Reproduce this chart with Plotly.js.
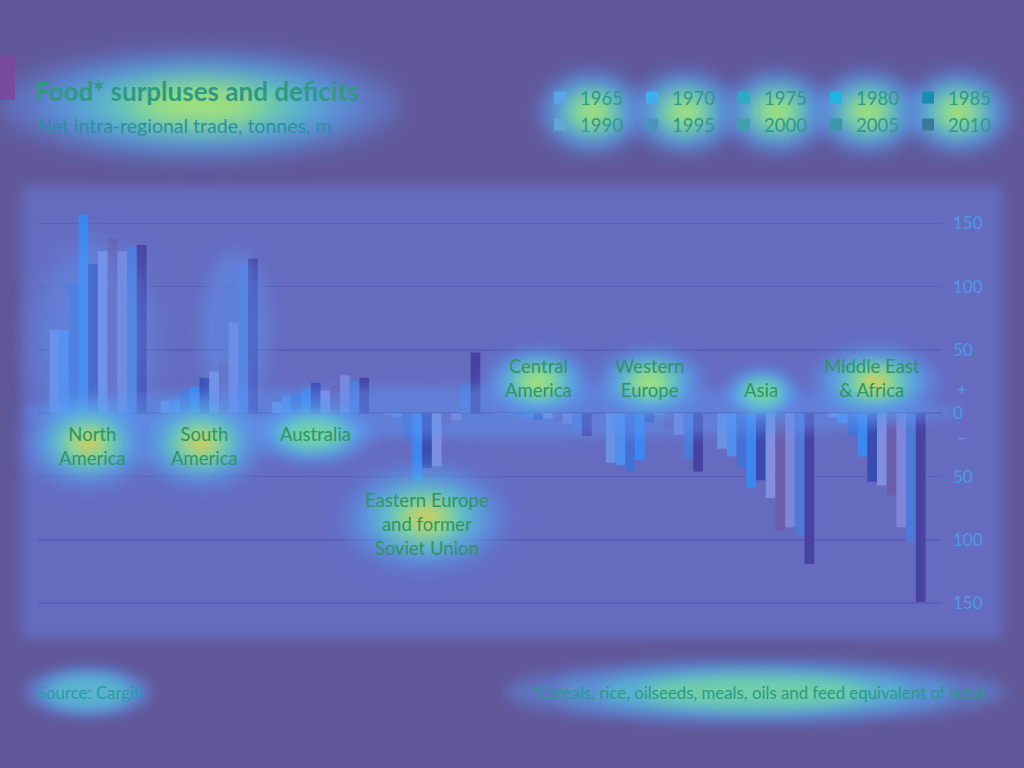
<!DOCTYPE html>
<html>
<head>
<meta charset="utf-8">
<script src="https://cdn.plot.ly/plotly-3.0.1.min.js"></script>
<style>
html,body{margin:0;padding:0;background:#615899;}
#chart{width:1024px;height:768px;}
</style>
</head>
<body>
<div id="chart"></div>
<script>
// ---- data ----
const regions = ["North America","South America","Australia","Eastern Europe and former Soviet Union","Central America","Western Europe","Asia","Middle East & Africa"];
const regionLabels = ["North<br>America","South<br>America","Australia","Eastern Europe<br>and former<br>Soviet Union","Central<br>America","Western<br>Europe","Asia","Middle East<br>& Africa"];
const years = ["1965","1970","1975","1980","1985","1990","1995","2000","2005","2010"];
const northAmerica   = [66, 66, 103, 157, 118, 128, 138, 128, 132, 133];
const southAmerica   = [10, 11, 18, 21, 28, 33, 40, 72, 117, 122];
const australia      = [9, 13, 16, 19, 24, 18, 22, 30, 26, 28];
const easternEurope  = [-1, -3, -20, -54, -43, -42, -9, -5, 23, 48];
const centralAmerica = [-0.5, -1, -2, -3, -5, -4, -6, -8, -13, -18];
const westernEurope  = [-39, -41, -46, -37, -7, -1, -12, -17, -36, -46];
const asia           = [-28, -34, -43, -59, -53, -67, -93, -90, -96, -119];
const middleEastAfrica = [-3, -8, -17, -34, -54, -57, -65, -90, -101, -149];
const yTickVals = [-150, -100, -50, 0, 50, 100, 150];
const yTickText = ["150", "100", "50", "0", "50", "100", "150"];

// ---- styles ----
const colors = ['#6c92e4','#4f8eee','#4470d4','#3a88f0','#3a4cae','#8090e0','#6c5cac','#7e86da','#4f7ad8','#4842a2'];
const legendColors = ['#5aa6e6','#3fb0ee','#2eaac4','#1fb4e2','#1a8cb0','#62a6d6','#4e92c0','#3fa0b0','#3a98a8','#3a7a9c'];
const series = [northAmerica, southAmerica, australia, easternEurope, centralAmerica, westernEurope, asia, middleEastAfrica];

const traces = years.map((yr, i) => ({
  type: 'bar',
  name: yr,
  legend: i < 5 ? 'legend' : 'legend2',
  x: regions,
  y: series.map(s => s[i]),
  marker: {color: colors[i], line: {width: 0}},
  hoverinfo: 'x+y+name'
}));

const textFont = 'Lato, "Open Sans", sans-serif';
const labelColor = '#2e9660';

// pixel -> paper helpers (plot area: x 38..942, y 190..630)
const PX = px => (px - 38) / 904;
const PY = py => (630 - py) / 440;

const annotations = [];
const labelY = [-6, -6, -6, -58, 8, 8, 8, 8];
regionLabels.forEach((lab, i) => {
  const below = labelY[i] < 0;
  annotations.push({
    x: regions[i], y: labelY[i], xref: 'x', yref: 'y',
    text: lab, showarrow: false, xshift: -5,
    yanchor: below ? 'top' : 'bottom', align: 'center',
    font: {family: textFont, size: 18.5, color: labelColor}
  });
});
annotations.push({xref: 'paper', yref: 'y', x: PX(955), y: 19, xanchor: 'left', text: '+', showarrow: false,
  font: {family: textFont, size: 17, color: '#4c9be8'}});
annotations.push({xref: 'paper', yref: 'y', x: PX(955), y: -19, xanchor: 'left', text: '−', showarrow: false,
  font: {family: textFont, size: 17, color: '#4c9be8'}});
annotations.push({xref: 'paper', yref: 'paper', x: PX(35), y: PY(125), xanchor: 'left', yanchor: 'middle',
  text: 'Net intra-regional trade, tonnes, m', showarrow: false,
  font: {family: textFont, size: 19.5, color: '#2a90a0'}});
annotations.push({xref: 'paper', yref: 'paper', x: PX(35), y: PY(692), xanchor: 'left', yanchor: 'middle',
  text: 'Source: Cargill', showarrow: false,
  font: {family: textFont, size: 16.8, color: '#2a9aa6'}});
annotations.push({xref: 'paper', yref: 'paper', x: PX(988), y: PY(692), xanchor: 'right', yanchor: 'middle',
  text: '*Cereals, rice, oilseeds, meals, oils and feed equivalent of meat', showarrow: false,
  font: {family: textFont, size: 16.8, color: '#2a9a84'}});

// soft highlight glows (decoration mimicking the reference tint)
const shapes = [
  {type: 'rect', xref: 'paper', yref: 'paper', layer: 'below',
   x0: PX(22), x1: PX(1002), y0: PY(638), y1: PY(186), fillcolor: '#656cc0', line: {width: 0}}
];
const blurFor = {};
const glowLayers = [
  [1.00, 'rgba(95,150,245,0.45)'],
  [0.80, 'rgba(85,185,240,0.45)'],
  [0.62, 'rgba(90,220,200,0.45)'],
  [0.45, 'rgba(140,235,130,0.50)'],
  [0.30, 'rgba(205,240,80,0.55)']
];
function glow(cx, cy, rx, ry, level) {
  const b = Math.max(4, Math.min(rx, ry) * 0.22);
  for (let k = 0; k < level && k < glowLayers.length; k++) {
    const [s, c] = glowLayers[k];
    blurFor[shapes.length] = b;
    shapes.push({type: 'circle', xref: 'paper', yref: 'paper', layer: 'above',
      x0: PX(cx - rx * s), x1: PX(cx + rx * s), y0: PY(cy + ry * s), y1: PY(cy - ry * s),
      fillcolor: c, line: {width: 0}});
  }
  if (level > 5) {
    blurFor[shapes.length] = b * 0.8;
    shapes.push({type: 'circle', xref: 'paper', yref: 'paper', layer: 'above',
      x0: PX(cx - rx * 0.2), x1: PX(cx + rx * 0.2), y0: PY(cy + ry * 0.2), y1: PY(cy - ry * 0.2),
      fillcolor: 'rgba(250,185,70,0.6)', line: {width: 0}});
  }
}
glow(490, 412, 470, 26, 1);
glow(95, 340, 60, 100, 1);
glow(235, 330, 35, 80, 1);
glow(200, 105, 200, 54, 5);
[592, 685, 777, 868, 958].forEach(cx => glow(cx, 112, 54, 42, 5));
glow(88, 443, 64, 44, 6);
glow(201, 443, 64, 44, 6);
glow(313, 434, 62, 30, 4);
glow(425, 518, 82, 52, 6);
glow(538, 382, 54, 34, 5);
glow(650, 382, 54, 34, 5);
glow(762, 393, 38, 26, 4);
glow(875, 382, 64, 36, 6);
glow(88, 692, 64, 26, 3);
glow(755, 692, 250, 32, 4);

const layout = {
  width: 1024, height: 768,
  margin: {l: 38, r: 82, t: 190, b: 138, pad: 0},
  paper_bgcolor: '#615899',
  plot_bgcolor: 'rgba(0,0,0,0)',
  barmode: 'group',
  bargap: 0.128,
  bargroupgap: 0,
  showlegend: true,
  title: {
    text: 'Food* surpluses and deficits',
    x: 35/1024, xref: 'container', xanchor: 'left',
    y: 1 - 92/768, yref: 'container', yanchor: 'middle',
    font: {family: textFont, size: 26, color: '#2e9a82', weight: 700}
  },
  legend: {
    orientation: 'h', xref: 'container', x: 540/1024, xanchor: 'left',
    yref: 'container', y: 1 - 98/768, yanchor: 'middle',
    bgcolor: 'rgba(0,0,0,0)', traceorder: 'normal',
    entrywidth: 47, entrywidthmode: 'pixels', itemwidth: 30,
    font: {family: textFont, size: 18.5, color: '#2e9a8c'}
  },
  legend2: {
    orientation: 'h', xref: 'container', x: 540/1024, xanchor: 'left',
    yref: 'container', y: 1 - 125/768, yanchor: 'middle',
    bgcolor: 'rgba(0,0,0,0)', traceorder: 'normal',
    entrywidth: 47, entrywidthmode: 'pixels', itemwidth: 30,
    font: {family: textFont, size: 18.5, color: '#2e9a8c'}
  },
  xaxis: {
    type: 'category', range: [-0.539, 7.584],
    showticklabels: false, showgrid: false, zeroline: false, showline: false, ticks: '', fixedrange: true
  },
  yaxis: {
    side: 'right', range: [-171.2, 176.4],
    tickvals: yTickVals, ticktext: yTickText,
    showgrid: true, gridcolor: '#5a5fb6', gridwidth: 1.5,
    zeroline: true, zerolinecolor: '#5a4f9e', zerolinewidth: 2,
    showline: false, ticks: '', ticklabelstandoff: 10,
    tickfont: {family: textFont, size: 17, color: '#4c9be8'}, fixedrange: true
  },
  shapes: shapes.concat([
    {type: 'rect', xref: 'paper', yref: 'paper', layer: 'above',
     x0: PX(0), x1: PX(15), y0: PY(100), y1: PY(55), fillcolor: '#7a4aa0', line: {width: 0}}
  ]),
  annotations: annotations,
  font: {family: textFont}
};

Plotly.newPlot('chart', traces, layout, {displayModeBar: false, staticPlot: true}).then(gd => {
  gd.querySelectorAll('g.traces').forEach(g => {
    const d = g.__data__;
    const tr = d && d[0] && d[0].trace;
    if (!tr) return;
    const c = legendColors[tr.index];
    g.querySelectorAll('.legendpoints path').forEach(p => { p.style.fill = c; });
  });
  gd.querySelectorAll('.shapelayer path').forEach(p => {
    const idx = +p.getAttribute('data-index');
    if (blurFor[idx] !== undefined) p.style.filter = 'blur(' + blurFor[idx].toFixed(1) + 'px)';
    if (idx === 0) p.style.filter = 'blur(6px)';
  });
});
</script>
</body>
</html>
